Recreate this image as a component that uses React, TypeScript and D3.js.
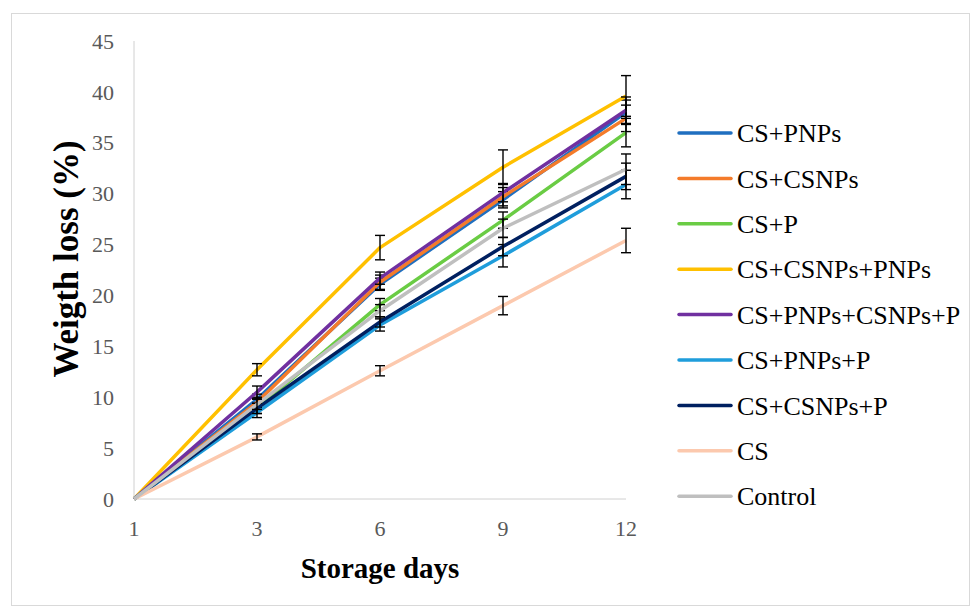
import React from "react";
import * as d3 from "d3";

const days = ["1", "3", "6", "9", "12"];
const yTicks = [0, 5, 10, 15, 20, 25, 30, 35, 40, 45];

const seriesNames = [
  "CS+PNPs",
  "CS+CSNPs",
  "CS+P",
  "CS+CSNPs+PNPs",
  "CS+PNPs+CSNPs+P",
  "CS+PNPs+P",
  "CS+CSNPs+P",
  "CS",
  "Control",
];
const seriesColors = [
  "#1f6fc0",
  "#f47b2a",
  "#6acc44",
  "#ffc000",
  "#7030a0",
  "#1f9ddb",
  "#002060",
  "#fcc9ae",
  "#bfbfbf",
];

const csPnps = [0, 9.8, 21.1, 29.4, 38.0];
const csCsnps = [0, 9.5, 21.3, 29.7, 37.4];
const csP = [0, 8.9, 19.1, 27.4, 36.0];
const csCsnpsPnps = [0, 12.7, 24.7, 32.6, 39.6];
const csPnpsCsnpsP = [0, 10.5, 21.7, 30.1, 38.2];
const csPnpsP = [0, 8.5, 17.1, 23.9, 30.9];
const csCsnpsP = [0, 8.9, 17.4, 24.8, 31.7];
const cs = [0, 6.1, 12.6, 19.0, 25.4];
const control = [0, 9.3, 18.5, 26.6, 32.4];

const errCsPnps = [0, 0.5, 0.6, 0.8, 1.2];
const errCsCsnps = [0, 0.5, 0.7, 0.9, 1.3];
const errCsP = [0, 0.5, 0.6, 0.8, 1.4];
const errCsCsnpsPnps = [0, 0.6, 1.2, 1.7, 2.0];
const errCsPnpsCsnpsP = [0, 0.6, 0.6, 0.9, 1.3];
const errCsPnpsP = [0, 0.5, 0.6, 1.1, 1.4];
const errCsCsnpsP = [0, 0.5, 0.5, 0.9, 1.3];
const errCs = [0, 0.3, 0.5, 0.9, 1.2];
const errControl = [0, 0.5, 0.6, 0.9, 1.5];

const seriesValues = [csPnps, csCsnps, csP, csCsnpsPnps, csPnpsCsnpsP, csPnpsP, csCsnpsP, cs, control];
const seriesErrors = [errCsPnps, errCsCsnps, errCsP, errCsCsnpsPnps, errCsPnpsCsnpsP, errCsPnpsP, errCsCsnpsP, errCs, errControl];

const font = "'Liberation Serif', 'Times New Roman', serif";

export default function App() {
  const x = d3.scalePoint<string>().domain(days).range([134, 626]);
  const y = d3.scaleLinear().domain([0, 45]).range([499, 41]);

  const line = d3
    .line<number>()
    .x((_, i) => x(days[i]) as number)
    .y((d) => y(d));

  return (
    <svg width={978} height={610} style={{ position: "absolute", left: 0, top: 0 }}>
      <rect x={0} y={0} width={978} height={610} fill="#fff" />
      <rect x={11.5} y={13.5} width={958} height={592} fill="none" stroke="#d9d9d9" />

      {/* axes */}
      <line x1={134} x2={134} y1={y(45)} y2={y(0)} stroke="#d0d0d0" strokeWidth={1} />
      <line x1={134} x2={626} y1={y(0)} y2={y(0)} stroke="#d0d0d0" strokeWidth={1} />

      {yTicks.map((t) => (
        <text
          key={t}
          x={114}
          y={y(t)}
          dy="0.35em"
          textAnchor="end"
          fontFamily={font}
          fontSize={22}
          fill="#595959"
        >
          {t}
        </text>
      ))}
      {days.map((d) => (
        <text
          key={d}
          x={x(d)}
          y={528}
          dy="0.35em"
          textAnchor="middle"
          fontFamily={font}
          fontSize={22}
          fill="#595959"
        >
          {d}
        </text>
      ))}

      {/* series */}
      {seriesValues.map((vals, si) => (
        <g key={seriesNames[si]}>
          <path d={line(vals) ?? ""} fill="none" stroke={seriesColors[si]} strokeWidth={3.5} strokeLinejoin="round" />
          {vals.map((v, i) => {
            const e = seriesErrors[si][i];
            if (!e) return null;
            const cx = x(days[i]) as number;
            return (
              <g key={i} stroke="#000" strokeWidth={1.4}>
                <line x1={cx} x2={cx} y1={y(v + e)} y2={y(v - e)} />
                <line x1={cx - 5} x2={cx + 5} y1={y(v + e)} y2={y(v + e)} />
                <line x1={cx - 5} x2={cx + 5} y1={y(v - e)} y2={y(v - e)} />
              </g>
            );
          })}
        </g>
      ))}

      {/* axis titles */}
      <text x={380} y={568} dy="0.35em" textAnchor="middle" fontFamily={font} fontSize={29} fontWeight="bold" fill="#000">
        Storage days
      </text>
      <text
        transform="translate(66,259) rotate(-90)"
        dy="0.35em"
        textAnchor="middle"
        fontFamily={font}
        fontSize={35}
        fontWeight="bold"
        fill="#000"
      >
        Weigth loss (%)
      </text>

      {/* legend */}
      {seriesNames.map((name, i) => {
        const ly = 133 + i * 45.4;
        return (
          <g key={name}>
            <line x1={679} x2={731} y1={ly} y2={ly} stroke={seriesColors[i]} strokeWidth={3.5} strokeLinecap="round" />
            <text x={737} y={ly} dy="0.35em" fontFamily={font} fontSize={26} fill="#000">
              {name}
            </text>
          </g>
        );
      })}
    </svg>
  );
}
